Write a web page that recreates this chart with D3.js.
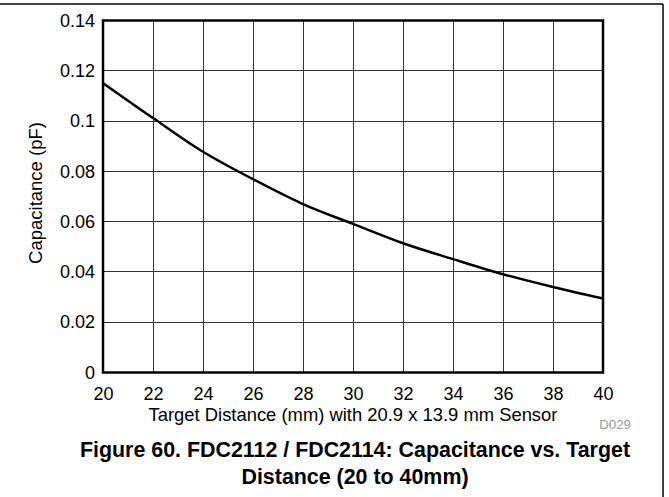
<!DOCTYPE html>
<meta charset="utf-8">
<style>
body { margin: 0; background: #fff; }
text { font-family: Arial, "Liberation Sans", sans-serif; }
.grid line { stroke: #333; stroke-width: 1; shape-rendering: crispEdges; }
.axis path, .axis line { display: none; }
.axis text { font-size: 18px; fill: #000; }
</style>
<body>
<div id="chart"></div>
<script src="https://d3js.org/d3.v7.min.js"></script>
<script>
// target distance (mm) vs capacitance (pF)
var distance = [20, 22, 24, 26, 28, 30, 32, 34, 36, 38, 40];
var capacitance = [0.1151, 0.1012, 0.0878, 0.0769, 0.0670, 0.0591, 0.0514, 0.0451, 0.0391, 0.0340, 0.0294];
var xTicks = [20, 22, 24, 26, 28, 30, 32, 34, 36, 38, 40];
var yTicks = [0, 0.02, 0.04, 0.06, 0.08, 0.1, 0.12, 0.14];
var yTickLabels = ["0", "0.02", "0.04", "0.06", "0.08", "0.1", "0.12", "0.14"];

var width = 669, height = 497,
    margin = {top: 20.5, right: 66, bottom: 124.5, left: 103};

var svg = d3.select("#chart").append("svg")
    .attr("width", width)
    .attr("height", height);

// page frame (top and right rule)
svg.append("line").attr("x1", 0).attr("x2", 663).attr("y1", 4).attr("y2", 4)
    .attr("stroke", "#000").attr("stroke-width", 1.5);
svg.append("line").attr("x1", 663).attr("x2", 663).attr("y1", 4).attr("y2", height)
    .attr("stroke", "#000").attr("stroke-width", 1.5);

var x = d3.scaleLinear().domain([20, 40]).range([margin.left, width - margin.right]);
var y = d3.scaleLinear().domain([0, 0.14]).range([height - margin.bottom, margin.top]);

var grid = svg.append("g").attr("class", "grid");
grid.selectAll(".vx").data(xTicks.slice(1, -1)).enter().append("line")
    .attr("x1", d => x(d)).attr("x2", d => x(d))
    .attr("y1", y(0)).attr("y2", y(0.14));
grid.selectAll(".hy").data(yTicks.slice(1, -1)).enter().append("line")
    .attr("x1", x(20)).attr("x2", x(40))
    .attr("y1", d => y(d)).attr("y2", d => y(d));

// x axis labels
svg.append("g")
    .attr("class", "axis")
    .attr("transform", `translate(0,${y(0)})`)
    .call(d3.axisBottom(x).tickValues(xTicks).tickSize(0).tickPadding(15).tickFormat(d3.format("d")));

// y axis labels
svg.append("g")
    .attr("class", "axis")
    .attr("transform", `translate(${x(20)},0)`)
    .call(d3.axisLeft(y).tickValues(yTicks).tickSize(0).tickPadding(8)
      .tickFormat((d, i) => yTickLabels[i]));

// the curve
var line = d3.line()
    .x((d, i) => x(distance[i]))
    .y(d => y(d))
    .curve(d3.curveMonotoneX);

svg.append("path")
    .datum(capacitance)
    .attr("d", line)
    .attr("fill", "none")
    .attr("stroke", "#000")
    .attr("stroke-width", 2.5);

// plot border
svg.append("rect")
    .attr("x", x(20)).attr("y", y(0.14))
    .attr("width", x(40) - x(20)).attr("height", y(0) - y(0.14))
    .attr("fill", "none").attr("stroke", "#000").attr("stroke-width", 2.5);

svg.append("text")
    .attr("transform", "translate(42,193) rotate(-90)")
    .attr("text-anchor", "middle")
    .style("font-size", "18.5px")
    .text("Capacitance (pF)");

svg.append("text")
    .attr("x", 353).attr("y", 421)
    .attr("text-anchor", "middle")
    .style("font-size", "18.4px")
    .text("Target Distance (mm) with 20.9 x 13.9 mm Sensor");

svg.append("text")
    .attr("x", 631).attr("y", 429)
    .attr("text-anchor", "end")
    .style("font-size", "13.3px")
    .attr("fill", "#999")
    .text("D029");

svg.append("text")
    .attr("x", 355).attr("y", 457)
    .attr("text-anchor", "middle")
    .style("font-size", "21.4px").style("font-weight", "bold")
    .text("Figure 60. FDC2112 / FDC2114: Capacitance vs. Target");

svg.append("text")
    .attr("x", 355).attr("y", 483.5)
    .attr("text-anchor", "middle")
    .style("font-size", "21.4px").style("font-weight", "bold")
    .text("Distance (20 to 40mm)");
</script>
</body>
